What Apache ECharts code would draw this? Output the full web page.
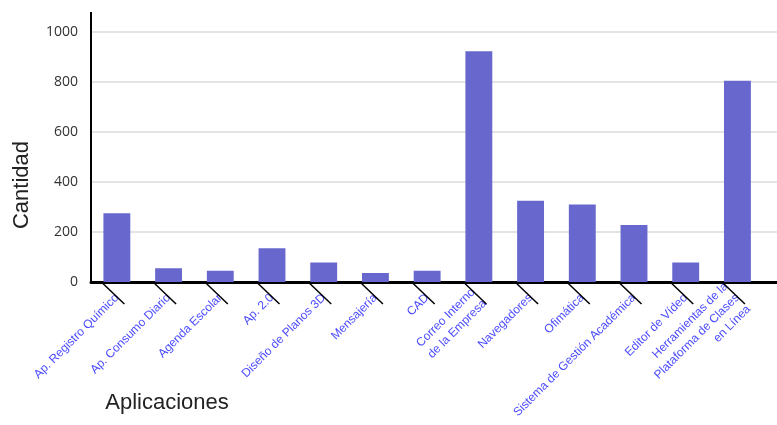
<!DOCTYPE html>
<html>
<head>
<meta charset="utf-8">
<script src="https://cdn.jsdelivr.net/npm/echarts@6/dist/echarts.min.js"></script>
<style>html,body{margin:0;padding:0;background:#fff}#chart{width:777px;height:425px}</style>
</head>
<body>
<div id="chart"></div>
<script>
const categories = [
  "Ap. Registro Químico",
  "Ap. Consumo Diario",
  "Agenda Escolar",
  "Ap. 2.0",
  "Diseño de Planos 3D",
  "Mensajería",
  "CAD",
  "Correo Interno\nde la Empresa",
  "Navegadores",
  "Ofimática",
  "Sistema de Gestión Académica",
  "Editor de Vídeo",
  "Herramientas de la\nPlataforma de Clases\nen Línea"
];
const values = [275, 55, 45, 135, 78, 36, 45, 923, 325, 310, 228, 78, 805];
const yTicks = [0, 200, 400, 600, 800, 1000];
const xName = "Aplicaciones";
const yName = "Cantidad";

const chart = echarts.init(document.getElementById('chart'), null, {renderer: 'canvas'});
chart.setOption({
  animation: false,
  grid: {left: 91, top: 32, bottom: 143, right: -38, containLabel: false, outerBoundsMode: 'none'},
  xAxis: {
    type: 'category',
    data: categories,
    max: categories.length,
    name: xName,
    nameLocation: 'middle',
    nameGap: 110,
    nameMoveOverlap: false,
    nameTextStyle: {fontFamily: 'Liberation Sans', fontSize: 22, color: '#222', verticalAlign: 'top', padding: [0, 572, 0, 0]},
    axisLine: {show: true, lineStyle: {color: '#000', width: 3}},
    axisTick: {show: false},
    axisLabel: {
      interval: 0,
      rotate: 45,
      margin: 14,
      fontFamily: 'Liberation Sans',
      fontSize: 12,
      lineHeight: 16,
      color: '#4b4bff',
      formatter: v => (v === undefined || v === 'undefined' || v === null) ? '' : v
    },
    splitLine: {show: false}
  },
  yAxis: {
    type: 'value',
    min: yTicks[0],
    max: yTicks[yTicks.length - 1],
    interval: yTicks[1] - yTicks[0],
    name: yName,
    nameLocation: 'middle',
    nameRotate: 90,
    nameGap: 58,
    nameMoveOverlap: false,
    nameTextStyle: {fontFamily: 'Liberation Sans', fontSize: 22, color: '#222', padding: [0, 56, 0, 0]},
    axisLine: {show: true, lineStyle: {color: '#000', width: 2},
      symbol: ['none', 'rect'], symbolSize: [2, 20], symbolOffset: [0, 10]},
    axisTick: {show: false},
    axisLabel: {margin: 13, fontFamily: 'Open Sans', fontSize: 14, color: '#333', formatter: v => String(v)},
    splitLine: {show: true, lineStyle: {color: '#e4e4e4', width: 2}}
  },
  series: [
    {
      type: 'bar',
      data: values,
      barWidth: '52%',
      itemStyle: {color: '#6767cd'}
    },
    {
      type: 'custom',
      clip: false,
      silent: true,
      data: categories.map((c, i) => [i, 0]),
      renderItem: function (params, api) {
        const p = api.coord([api.value(0), api.value(1)]);
        const bw = api.size([1, 0])[0];
        const x0 = p[0] - bw * 0.28;
        return {
          type: 'line',
          shape: {x1: x0, y1: p[1] + 1, x2: x0 + 22, y2: p[1] + 22},
          style: {stroke: '#000', lineWidth: 1.5}
        };
      }
    }
  ]
});
</script>
</body>
</html>
